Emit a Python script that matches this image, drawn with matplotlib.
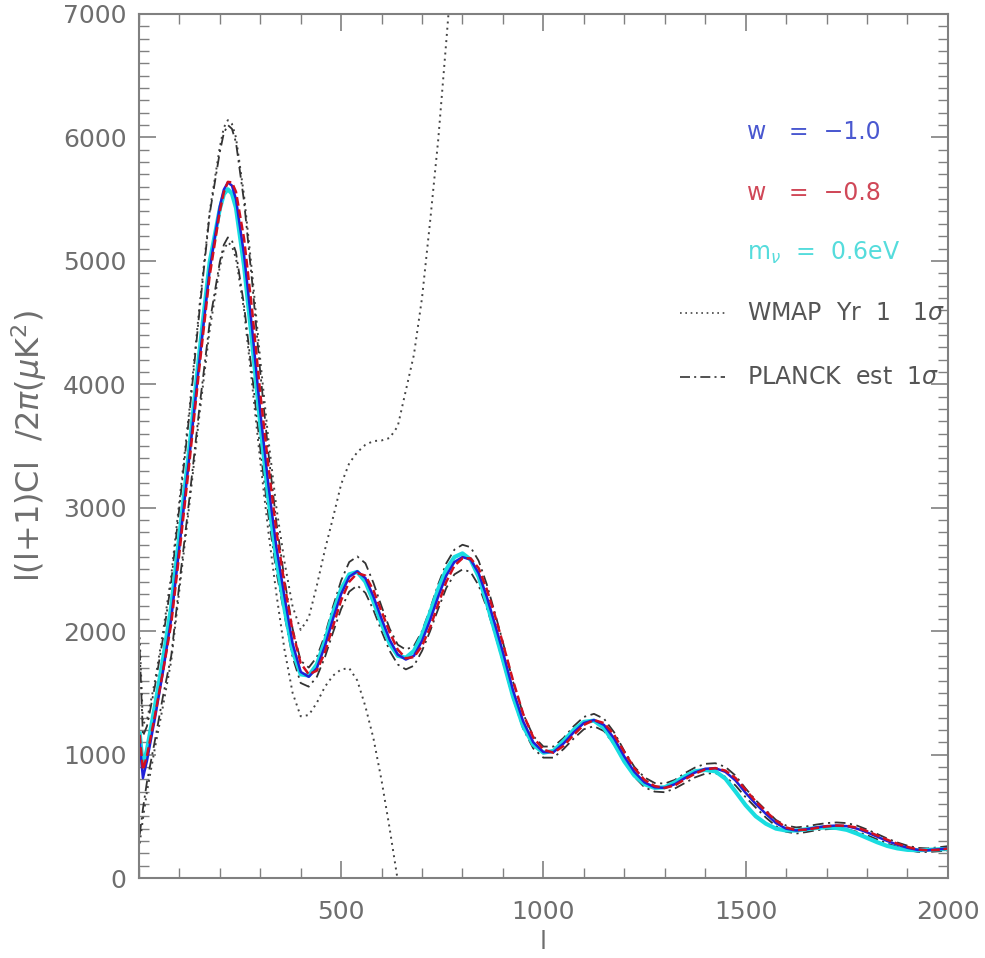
import numpy as np
import matplotlib.pyplot as plt
from matplotlib.ticker import MultipleLocator

# multipole grid for the model curves
ell = [2, 10, 20, 40, 60, 80, 100, 125, 150, 175, 200, 210, 220, 230, 240, 260, 280,
       300, 320, 340, 360, 380, 400, 420, 440, 460, 480, 500, 520, 540, 560, 580,
       600, 620, 640, 660, 680, 700, 720, 740, 760, 780, 800, 820, 840, 860, 880,
       900, 925, 950, 975, 1000, 1025, 1050, 1075, 1100, 1125, 1150, 1175, 1200,
       1225, 1250, 1275, 1300, 1325, 1350, 1375, 1400, 1425, 1450, 1475, 1500,
       1525, 1550, 1575, 1600, 1625, 1650, 1675, 1700, 1725, 1750, 1775, 1800,
       1825, 1850, 1875, 1900, 1925, 1950, 1975, 2000]

# w = -1.0
cl_w10 = [1100, 810, 950, 1300, 1680, 2100, 2680, 3420, 4200, 4930, 5440, 5577, 5635,
          5610, 5500, 5050, 4450, 3780, 3190, 2680, 2280, 1900, 1670, 1630, 1700,
          1880, 2100, 2300, 2440, 2485, 2430, 2280, 2100, 1930, 1810, 1770, 1800,
          1920, 2090, 2280, 2450, 2560, 2600, 2580, 2470, 2280, 2060, 1830, 1520,
          1270, 1100, 1020, 1020, 1090, 1180, 1255, 1280, 1240, 1130, 985, 860, 775,
          735, 730, 760, 810, 855, 885, 890, 860, 790, 690, 600, 520, 445, 400, 385,
          395, 410, 420, 425, 420, 400, 370, 335, 300, 270, 245, 228, 225, 232, 240]

# w = -0.8
cl_w08 = [1160, 875, 990, 1320, 1680, 2060, 2630, 3370, 4150, 4880, 5400, 5555, 5640,
          5635, 5560, 5180, 4600, 3930, 3340, 2810, 2380, 2000, 1740, 1650, 1680,
          1830, 2040, 2250, 2400, 2470, 2450, 2330, 2160, 1990, 1850, 1780, 1790,
          1880, 2030, 2220, 2400, 2530, 2590, 2590, 2510, 2340, 2130, 1900, 1600,
          1330, 1140, 1040, 1015, 1070, 1160, 1240, 1280, 1255, 1160, 1020, 890, 795,
          745, 730, 750, 800, 845, 880, 890, 870, 810, 715, 620, 540, 465, 410, 388,
          392, 405, 418, 425, 423, 408, 380, 345, 310, 278, 252, 232, 224, 228, 238]

# m_nu = 0.6 eV
cl_mnu = [1170, 900, 1040, 1400, 1780, 2200, 2770, 3490, 4270, 4990, 5420, 5540, 5580,
          5545, 5430, 4960, 4340, 3680, 3080, 2580, 2180, 1840, 1650, 1640, 1730,
          1920, 2150, 2340, 2460, 2480, 2400, 2240, 2060, 1900, 1800, 1785, 1840,
          1970, 2150, 2340, 2500, 2600, 2630, 2580, 2440, 2230, 2000, 1770, 1470,
          1230, 1080, 1015, 1030, 1110, 1200, 1265, 1275, 1215, 1090, 945, 830, 760,
          730, 735, 775, 825, 865, 875, 865, 805, 700, 590, 500, 440, 400, 385, 385,
          395, 405, 410, 405, 390, 360, 325, 290, 260, 240, 228, 225, 228, 232, 235]

# PLANCK est 1 sigma
planck_hi = [1850, 1150, 1230, 1560, 1950, 2400, 3000, 3760, 4600, 5380, 5880, 6035,
             6100, 6070, 5960, 5480, 4830, 4100, 3450, 2880, 2420, 2020, 1760, 1705,
             1790, 1970, 2200, 2410, 2560, 2605, 2550, 2390, 2200, 2020, 1890, 1850,
             1880, 2000, 2180, 2380, 2550, 2660, 2700, 2680, 2570, 2380, 2150, 1910,
             1590, 1330, 1150, 1065, 1065, 1135, 1230, 1305, 1330, 1290, 1180, 1030,
             900, 815, 770, 765, 795, 850, 895, 925, 930, 900, 830, 725, 630, 550, 470,
             425, 410, 418, 433, 445, 450, 445, 425, 393, 357, 320, 288, 262, 244, 240,
             248, 258]
planck_lo = [350, 560, 780, 1120, 1480, 1800, 2380, 3080, 3820, 4500, 4990, 5130,
             5190, 5165, 5070, 4640, 4080, 3480, 2940, 2480, 2130, 1790, 1580, 1550,
             1630, 1790, 1990, 2180, 2320, 2370, 2310, 2170, 2000, 1840, 1730, 1690,
             1720, 1840, 2000, 2180, 2350, 2460, 2500, 2480, 2370, 2190, 1980, 1750,
             1455, 1210, 1050, 975, 975, 1045, 1130, 1205, 1230, 1190, 1080, 940, 820,
             735, 700, 695, 725, 770, 815, 845, 850, 820, 750, 655, 570, 490, 420, 375,
             360, 372, 387, 395, 400, 395, 375, 347, 313, 280, 252, 228, 212, 210, 216,
             222]

# WMAP yr 1, 1 sigma
ell_wmap = [2, 10, 20, 40, 60, 80, 100, 125, 150, 175, 200, 210, 220, 230, 240, 260,
            280, 300, 320, 340, 360, 380, 400, 420, 440, 460, 480, 500, 520, 540, 560,
            580, 600, 620, 640, 660, 680, 700, 720, 740, 760, 780]
wmap_hi = [1950, 1250, 1280, 1600, 2000, 2450, 3050, 3800, 4640, 5400, 5920, 6080,
           6140, 6110, 6000, 5530, 4900, 4200, 3560, 3000, 2560, 2200, 2010, 2110,
           2370, 2660, 2920, 3190, 3360, 3450, 3510, 3540, 3545, 3565, 3660, 3950,
           4240, 4700, 5320, 5980, 6780, 7600]
wmap_lo = [280, 480, 700, 1060, 1400, 1760, 2330, 3030, 3760, 4440, 4950, 5090, 5150,
           5120, 5020, 4600, 4000, 3380, 2810, 2300, 1850, 1500, 1310, 1320, 1420,
           1550, 1640, 1690, 1700, 1600, 1390, 1130, 790, 400, -20, np.nan, np.nan,
           np.nan, np.nan, np.nan, np.nan, np.nan]

gray = '#6e6e6e'
axcol = '#808080'

fig = plt.figure(figsize=(9.85, 9.58), dpi=100)
ax = fig.add_axes([0.141, 0.0835, 0.8213, 0.9019])

dot = (0, (1, 2.2))
dashdot = (0, (6, 2.5, 1.2, 2.5))

ax.plot(ell_wmap, wmap_hi, color='#444444', lw=1.4, ls=dot)
ax.plot(ell_wmap, wmap_lo, color='#444444', lw=1.4, ls=dot)
ax.plot(ell, planck_hi, color='#333333', lw=1.3, ls=dashdot)
ax.plot(ell, planck_lo, color='#333333', lw=1.3, ls=dashdot)

ax.plot(ell, cl_mnu, color='#19dde0', lw=3.0)
ax.plot(ell, cl_w10, color='#2020d8', lw=1.8)
ax.plot(ell, cl_w08, color='#d01020', lw=1.8, ls=(0, (3.5, 1.5)))

ax.set_xlim(0, 2000)
ax.set_ylim(0, 7000)
ax.xaxis.set_major_locator(MultipleLocator(500))
ax.xaxis.set_minor_locator(MultipleLocator(100))
ax.yaxis.set_major_locator(MultipleLocator(1000))
ax.yaxis.set_minor_locator(MultipleLocator(100))
ax.set_xticks([500, 1000, 1500, 2000])

ax.tick_params(which='both', direction='in', top=True, right=True,
               color=axcol, labelcolor=gray, labelsize=18)
ax.tick_params(which='major', length=12, width=1.2)
ax.tick_params(which='minor', length=7, width=1.0)
ax.tick_params(axis='x', pad=16)
ax.tick_params(axis='y', pad=9)
for s in ax.spines.values():
    s.set_color(axcol)
    s.set_linewidth(1.5)

ax.set_xlabel('l', fontsize=18, color=gray, labelpad=4)
ax.set_ylabel(r'l(l+1)Cl  /2$\pi$($\mu$K$^2$)', fontsize=23, color=gray, labelpad=10)

# legend written as plain text like the original
tx = 0.752
fs = 17
ax.text(tx, 0.863, 'w   =  \u22121.0', transform=ax.transAxes, color='#4a58d0',
        fontsize=fs, va='center')
ax.text(tx, 0.793, 'w   =  \u22120.8', transform=ax.transAxes, color='#d04858',
        fontsize=fs, va='center')
ax.text(tx, 0.723, r'm$_\nu$  =  0.6eV', transform=ax.transAxes, color='#55dcdc',
        fontsize=fs, va='center')
ax.text(tx, 0.654, r'WMAP  Yr  1   1$\sigma$', transform=ax.transAxes,
        color='#555555', fontsize=fs, va='center')
ax.text(tx, 0.580, r'PLANCK  est  1$\sigma$', transform=ax.transAxes,
        color='#555555', fontsize=fs, va='center')
ax.plot([0.669, 0.724], [0.654, 0.654], transform=ax.transAxes, color='#444444',
        lw=1.2, ls=dot)
ax.plot([0.669, 0.724], [0.580, 0.580], transform=ax.transAxes, color='#333333',
        lw=1.2, ls=dashdot)

fig.savefig('out.png', dpi=100)
